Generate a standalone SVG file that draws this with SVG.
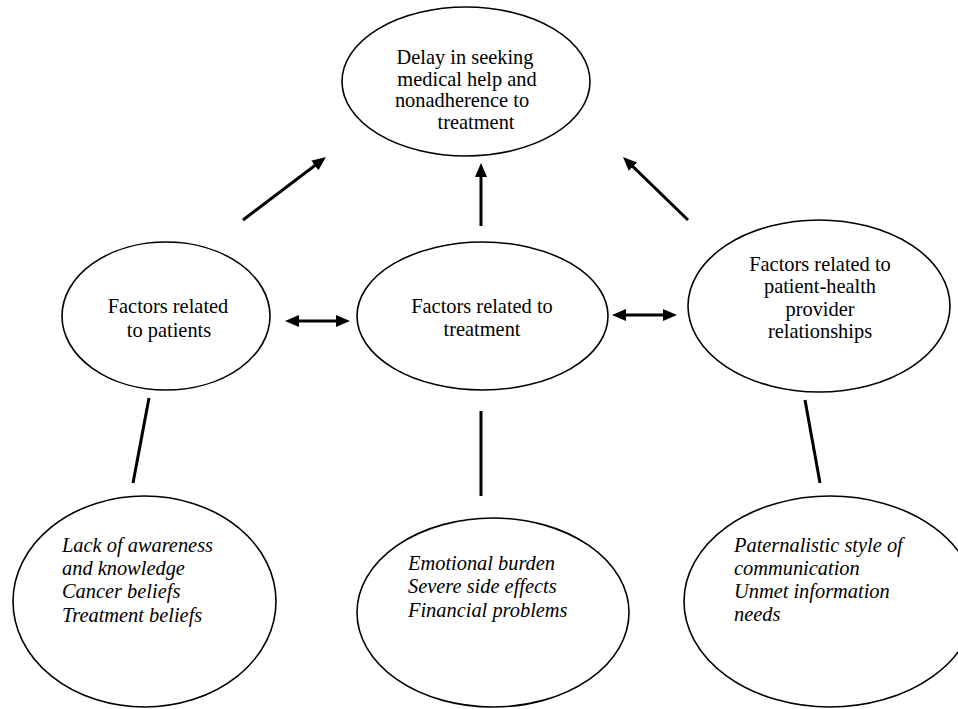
<svg xmlns="http://www.w3.org/2000/svg" width="958" height="709" viewBox="0 0 958 709">
<style>
  .node ellipse { fill: #ffffff; stroke: #000000; stroke-width: 1.6; }
  .t { font-family: "Liberation Serif", "Times New Roman", Times, "DejaVu Serif", serif; font-size: 20.4px; fill: #000000; }
  .c { text-anchor: middle; }
  .i { font-style: italic; }
  .conn line { stroke: #000000; stroke-width: 3; fill: none; }
</style>
<defs>
  <marker id="ah" viewBox="0 0 14 12" refX="3" refY="6" markerWidth="14" markerHeight="12" markerUnits="userSpaceOnUse" orient="auto-start-reverse">
    <path d="M0,0 L14,6 L0,12 z" fill="#000000"/>
  </marker>
</defs>
<rect width="958" height="709" fill="#ffffff"/>

<g id="connectors" class="conn">
  <line x1="243" y1="220" x2="317.2" y2="163.7" marker-end="url(#ah)"/>
  <line x1="481" y1="226" x2="481" y2="174" marker-end="url(#ah)"/>
  <line x1="688" y1="220" x2="630.9" y2="164.7" marker-end="url(#ah)"/>
  <line x1="296" y1="321" x2="339" y2="321" marker-start="url(#ah)" marker-end="url(#ah)"/>
  <line x1="623" y1="315" x2="666" y2="315" marker-start="url(#ah)" marker-end="url(#ah)"/>
  <line x1="149" y1="398" x2="133" y2="483"/>
  <line x1="481" y1="411" x2="481" y2="496"/>
  <line x1="805" y1="400" x2="820" y2="483"/>
</g>

<g id="outcome" class="node">
  <ellipse cx="466" cy="81.5" rx="124" ry="74.5"/>
  <text class="t c" x="465" y="64">Delay in seeking</text>
  <text class="t c" x="467" y="86">medical help and</text>
  <text class="t c" x="462" y="107">nonadherence to</text>
  <text class="t c" x="476" y="128.5">treatment</text>
</g>

<g id="patients" class="node">
  <ellipse cx="166" cy="316" rx="104" ry="74"/>
  <text class="t c" x="168" y="313">Factors related</text>
  <text class="t c" x="169" y="337">to patients</text>
</g>

<g id="treatment" class="node">
  <ellipse cx="482.5" cy="316" rx="125.5" ry="74"/>
  <text class="t c" x="482" y="313">Factors related to</text>
  <text class="t c" x="482" y="336">treatment</text>
</g>

<g id="relationships" class="node">
  <ellipse cx="819" cy="306" rx="131" ry="86"/>
  <text class="t c" x="820" y="270.5">Factors related to</text>
  <text class="t c" x="820" y="293">patient-health</text>
  <text class="t c" x="820" y="316">provider</text>
  <text class="t c" x="820" y="338">relationships</text>
</g>

<g id="patient-details" class="node">
  <ellipse cx="144.5" cy="601.5" rx="131.5" ry="105.5"/>
  <text class="t i" x="62" y="552">Lack of awareness</text>
  <text class="t i" x="62" y="575">and knowledge</text>
  <text class="t i" x="62" y="598">Cancer beliefs</text>
  <text class="t i" x="62" y="622">Treatment beliefs</text>
</g>

<g id="treatment-details" class="node">
  <ellipse cx="493" cy="612.5" rx="136" ry="94.5"/>
  <text class="t i" x="408" y="570">Emotional burden</text>
  <text class="t i" x="408" y="593">Severe side effects</text>
  <text class="t i" x="408" y="617">Financial problems</text>
</g>

<g id="relationship-details" class="node">
  <ellipse cx="830" cy="601.5" rx="146" ry="105.5"/>
  <text class="t i" x="734" y="552">Paternalistic style of</text>
  <text class="t i" x="734" y="575">communication</text>
  <text class="t i" x="734" y="598">Unmet information</text>
  <text class="t i" x="734" y="621">needs</text>
</g>
</svg>
